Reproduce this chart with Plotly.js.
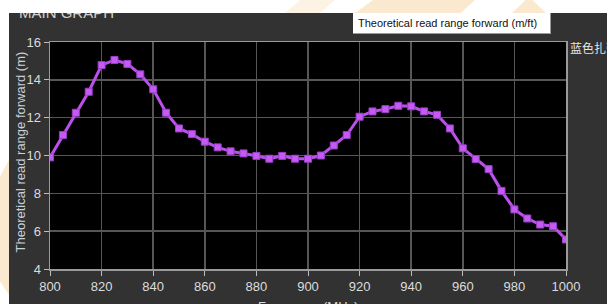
<!DOCTYPE html>
<html>
<head>
<meta charset="utf-8">
<script src="https://cdn.plot.ly/plotly-3.0.1.min.js"></script>
<style>
  html, body { margin: 0; padding: 0; background: #ffffff; }
  #wrap { position: relative; width: 607px; height: 304px; overflow: hidden; }
  #chart { position: absolute; left: 0; top: 0; width: 607px; height: 304px; }
  .white { position: absolute; background: #ffffff; z-index: 5; }
  .wm { position: absolute; background: #fae2bf; z-index: 6; opacity: 0.75; }
  #tip { position: absolute; z-index: 7; left: 353px; top: 13px; width: 198px; height: 21px;
         background: #ffffff; border-right: 1px solid #9a9a9a; border-bottom: 1px solid #9a9a9a;
         font-family: "Liberation Sans", Arial, sans-serif; font-size: 11px; color: #111;
         line-height: 21px; padding-left: 5px; box-sizing: border-box; white-space: nowrap; }
</style>
</head>
<body>
<div id="wrap">
  <div id="chart"></div>
  <div class="white" style="left:0;top:0;width:607px;height:13px;"></div>
  <div class="white" style="left:0;top:0;width:9px;height:304px;"></div>
  <div class="wm" style="left:355px;top:0;width:120px;height:13px;clip-path:polygon(15% 0,100% 0,88% 100%,0 100%);"></div>
  <div class="wm" style="left:512px;top:0;width:34px;height:13px;clip-path:polygon(40% 0,60% 0,100% 100%,0 100%);"></div>
  <div class="wm" style="left:285px;top:0;width:50px;height:13px;clip-path:polygon(30% 0,100% 0,70% 100%,0 100%);opacity:0.4;"></div>
  <div class="wm" style="left:0;top:160px;width:9px;height:135px;clip-path:polygon(100% 0,100% 100%,0 90%,0 12%);"></div>
  <div id="tip">Theoretical read range forward (m/ft)</div>
</div>
<script>
// Data
const frequencyMHz = [800, 805, 810, 815, 820, 825, 830, 835, 840, 845,
                      850, 855, 860, 865, 870, 875, 880, 885, 890, 895,
                      900, 905, 910, 915, 920, 925, 930, 935, 940, 945,
                      950, 955, 960, 965, 970, 975, 980, 985, 990, 995, 1000];
const readRangeM = [9.9, 11.08, 12.26, 13.37, 14.78, 15.05, 14.84, 14.29, 13.5, 12.26,
                    11.43, 11.13, 10.73, 10.43, 10.22, 10.11, 9.98, 9.83, 9.98, 9.83,
                    9.83, 10.0, 10.53, 11.08, 12.05, 12.33, 12.45, 12.63, 12.6, 12.33,
                    12.15, 11.43, 10.38, 9.81, 9.28, 8.13, 7.15, 6.67, 6.35, 6.26, 5.56];
const xTicks = [800, 820, 840, 860, 880, 900, 920, 940, 960, 980, 1000];
const yTicks = [4, 6, 8, 10, 12, 14, 16];
const seriesName = "蓝色扎带";
const chartTitle = "MAIN GRAPH";
const xTitle = "Frequency (MHz)";
const yTitle = "Theoretical read range forward (m)";

const FONT = "Liberation Sans, Arial, sans-serif";

const trace = {
  x: frequencyMHz,
  y: readRangeM,
  type: "scatter",
  mode: "lines+markers",
  name: seriesName,
  line: { color: "#bb50ec", width: 3 },
  marker: { symbol: "square", size: 7, color: "#c45cf2", line: { color: "#9b3ccc", width: 1 } },
  hoverinfo: "skip"
};

const axisCommon = {
  ticks: "outside",
  ticklen: 5,
  tickwidth: 1,
  tickcolor: "#bdbdbd",
  showgrid: true,
  gridcolor: "#565656",
  gridwidth: 1.5,
  zeroline: false,
  showline: true,
  mirror: true,
  linecolor: "#9a9a9a",
  linewidth: 1.5,
  tickfont: { family: FONT, size: 13, color: "#dcdcdc" },
  automargin: false,
  fixedrange: true
};

const layout = {
  width: 607,
  height: 304,
  margin: { l: 50, r: 41, t: 42, b: 35, pad: 0 },
  paper_bgcolor: "#323232",
  plot_bgcolor: "#000000",
  showlegend: false,
  font: { family: FONT, size: 13, color: "#dcdcdc" },
  xaxis: Object.assign({}, axisCommon, {
    range: [800, 1000],
    tickvals: xTicks,
    ticktext: xTicks.map(String)
  }),
  yaxis: Object.assign({}, axisCommon, {
    range: [4, 16],
    tickvals: yTicks,
    ticktext: yTicks.map(String)
  }),
  annotations: [
    {
      text: chartTitle, xref: "paper", yref: "paper", x: 0, y: 1,
      xanchor: "left", yanchor: "bottom", xshift: -33, yshift: 19,
      showarrow: false, font: { family: FONT, size: 15, color: "#d0d0d0" }
    },
    {
      text: seriesName, xref: "paper", yref: "paper", x: 1, y: 1,
      xanchor: "left", yanchor: "middle", xshift: 2, yshift: -5,
      showarrow: false, font: { family: "Noto Sans CJK SC, sans-serif", size: 12, color: "#e6e6e6" }
    },
    {
      text: xTitle, xref: "paper", yref: "paper", x: 0.5, y: 0,
      xanchor: "center", yanchor: "top", yshift: -28,
      showarrow: false, font: { family: FONT, size: 13, color: "#dcdcdc" }
    },
    {
      text: yTitle, xref: "paper", yref: "paper", x: 0, y: 0.5,
      xanchor: "center", yanchor: "middle", xshift: -30, yshift: 3, textangle: -90,
      showarrow: false, font: { family: FONT, size: 13, color: "#c8d0dc" }
    }
  ]
};

Plotly.newPlot("chart", [trace], layout, { displayModeBar: false, staticPlot: true });
</script>
</body>
</html>
